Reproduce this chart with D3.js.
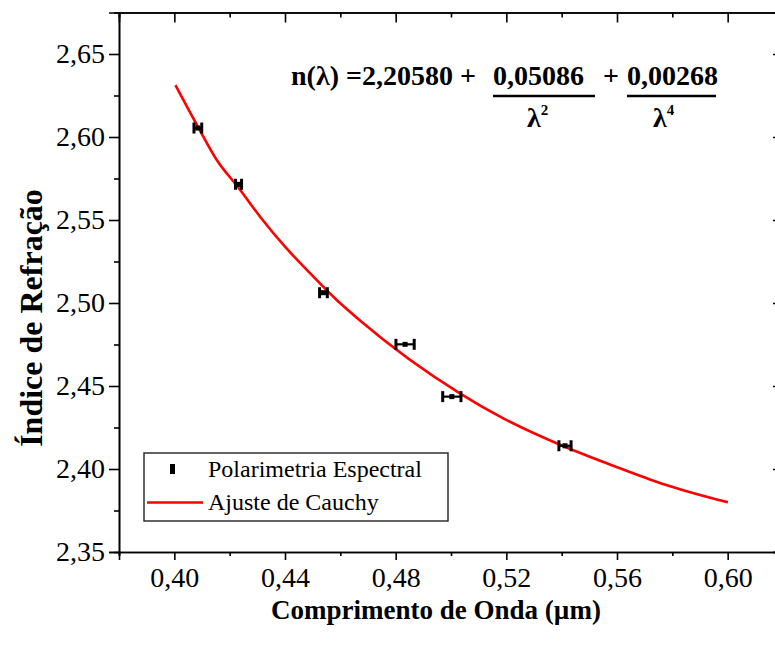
<!DOCTYPE html>
<html>
<head>
<meta charset="utf-8">
<script src="https://cdn.jsdelivr.net/npm/d3@7"></script>
<style>
  body { margin: 0; background: #fff; }
  svg { display: block; font-family: "Liberation Serif", "Times New Roman", serif; }
</style>
</head>
<body>
<div id="chart"></div>
<script>
// medidas (polarimetria espectral)
const waveX = [0.4085, 0.4232, 0.4539, 0.4834, 0.5003, 0.5412];
const indexY = [2.6054, 2.5715, 2.5062, 2.4751, 2.4436, 2.4140];
const waveErr = [0.0014, 0.0011, 0.0014, 0.0033, 0.0033, 0.0022];

// curva de ajuste
const fitX = [0.4004, 0.4082, 0.4154, 0.4232, 0.4310, 0.4400, 0.4491, 0.4587, 0.4671,
              0.5032, 0.5189, 0.5411, 0.5586, 0.5766, 0.6001];
const fitY = [2.6313, 2.6072, 2.5860, 2.5694, 2.5520, 2.5339, 2.5179, 2.5018, 2.4895,
              2.4456, 2.4305, 2.4134, 2.4020, 2.3910, 2.3799];

const xTicks = [0.40, 0.44, 0.48, 0.52, 0.56, 0.60];
const xMinor = [0.38, 0.42, 0.46, 0.50, 0.54, 0.58, 0.62];
const yTicks = [2.35, 2.40, 2.45, 2.50, 2.55, 2.60, 2.65];
const yMinor = [2.375, 2.425, 2.475, 2.525, 2.575, 2.625];

const legendLabels = ['Polarimetria Espectral', 'Ajuste de Cauchy'];

const W = 775, H = 645;
const margin = { left: 119, top: 12.5, right: 783, bottom: 552 };
const serif = '"Liberation Serif", "Times New Roman", serif';

const svg = d3.select('#chart').append('svg')
    .attr('width', W).attr('height', H);

const x = d3.scaleLinear().domain([0.38, 0.62]).range([margin.left, margin.right]);
const y = d3.scaleLinear().domain([2.35, 2.675]).range([margin.bottom, margin.top]);

const fmt = v => d3.format('.2f')(v).replace('.', ',');

function styleAxis(g) {
    g.attr('font-family', serif).attr('font-size', 28);
    g.select('.domain').attr('stroke', '#000').attr('stroke-width', 1.6);
    g.selectAll('.tick line').attr('stroke', '#000').attr('stroke-width', 1.6);
    g.selectAll('.tick text').attr('fill', '#000');
}

// eixo inferior
svg.append('g').attr('transform', `translate(0,${margin.bottom})`)
    .call(d3.axisBottom(x).tickValues(xMinor).tickSize(4).tickFormat(''))
    .call(styleAxis);
svg.append('g').attr('transform', `translate(0,${margin.bottom})`)
    .call(d3.axisBottom(x).tickValues(xTicks).tickSize(8).tickPadding(7).tickFormat(fmt))
    .call(styleAxis);

// eixo superior (ticks para dentro)
svg.append('g').attr('transform', `translate(0,${margin.top})`)
    .call(d3.axisTop(x).tickValues(xMinor).tickSize(-5).tickFormat(''))
    .call(styleAxis);
svg.append('g').attr('transform', `translate(0,${margin.top})`)
    .call(d3.axisTop(x).tickValues(xTicks).tickSize(-10).tickFormat(''))
    .call(styleAxis);

// eixo esquerdo
svg.append('g').attr('transform', `translate(${margin.left},0)`)
    .call(d3.axisLeft(y).tickValues(yMinor).tickSize(5).tickFormat(''))
    .call(styleAxis);
svg.append('g').attr('transform', `translate(${margin.left},0)`)
    .call(d3.axisLeft(y).tickValues(yTicks).tickSize(10).tickPadding(4).tickFormat(fmt))
    .call(styleAxis);

// eixo direito
svg.append('g').attr('transform', `translate(${margin.right},0)`)
    .call(d3.axisRight(y).tickValues(yTicks).tickSize(-10).tickFormat(''))
    .call(styleAxis);

// curva de Cauchy
const fitData = fitX.map((v, i) => [v, fitY[i]]);
svg.append('path')
    .datum(fitData)
    .attr('fill', 'none')
    .attr('stroke', '#ff0000')
    .attr('stroke-width', 2.6)
    .attr('d', d3.line().x(d => x(d[0])).y(d => y(d[1])).curve(d3.curveMonotoneX));

// pontos com barras de erro
const pts = waveX.map((v, i) => ({ x: v, y: indexY[i], e: waveErr[i] }));
const pg = svg.append('g');
pts.forEach(p => {
    const cy = y(p.y);
    const x0 = x(p.x - p.e), x1 = x(p.x + p.e);
    pg.append('line').attr('x1', x0).attr('x2', x1).attr('y1', cy).attr('y2', cy)
        .attr('stroke', '#000').attr('stroke-width', 2.2);
    [x0, x1].forEach(cx => {
        pg.append('line').attr('x1', cx).attr('x2', cx).attr('y1', cy - 5.5).attr('y2', cy + 5.5)
            .attr('stroke', '#000').attr('stroke-width', 3);
    });
    pg.append('rect').attr('x', x(p.x) - 2.5).attr('y', cy - 2.5)
        .attr('width', 5).attr('height', 5).attr('fill', '#000');
});

// legenda
const lg = svg.append('g');
lg.append('rect').attr('x', 144).attr('y', 453).attr('width', 304).attr('height', 68)
    .attr('fill', '#fff').attr('stroke', '#222').attr('stroke-width', 1.4);
lg.append('rect').attr('x', 170).attr('y', 464).attr('width', 5).attr('height', 10).attr('fill', '#000');
lg.append('line').attr('x1', 147).attr('x2', 203).attr('y1', 502.5).attr('y2', 502.5)
    .attr('stroke', '#ff0000').attr('stroke-width', 2.6);
legendLabels.forEach((t, i) => {
    lg.append('text').attr('x', 208).attr('y', 477 + i * 33)
        .style('font-size', '24px').attr('fill', '#000').text(t);
});

// títulos dos eixos
svg.append('text')
    .attr('x', (margin.left + margin.right) / 2 - 15).attr('y', 619)
    .attr('text-anchor', 'middle')
    .style('font-size', '27px').style('font-weight', 'bold')
    .text('Comprimento de Onda (µm)');

svg.append('text')
    .attr('transform', 'translate(42,318) rotate(-90)')
    .attr('text-anchor', 'middle')
    .style('font-size', '32px').style('font-weight', 'bold')
    .text('Índice de Refração');

// equação
const eq = svg.append('g').attr('font-family', serif)
    .style('font-weight', 'bold').style('font-size', '28px').attr('fill', '#000');
eq.append('text').attr('x', 291).attr('y', 85).text('n(λ) =2,20580 +');
eq.append('text').attr('x', 493).attr('y', 85).text('0,05086');
eq.append('text').attr('x', 603).attr('y', 85).text('+');
eq.append('text').attr('x', 627).attr('y', 85).text('0,00268');
eq.append('line').attr('x1', 493).attr('x2', 595).attr('y1', 96).attr('y2', 96)
    .attr('stroke', '#000').attr('stroke-width', 2.5);
eq.append('line').attr('x1', 627).attr('x2', 716).attr('y1', 96).attr('y2', 96)
    .attr('stroke', '#000').attr('stroke-width', 2.5);
const l2 = eq.append('text').attr('x', 527).attr('y', 127);
l2.append('tspan').text('λ');
l2.append('tspan').attr('dy', -12).style('font-size', '15px').text('2');
const l4 = eq.append('text').attr('x', 653).attr('y', 127);
l4.append('tspan').text('λ');
l4.append('tspan').attr('dy', -12).style('font-size', '15px').text('4');
</script>
</body>
</html>
